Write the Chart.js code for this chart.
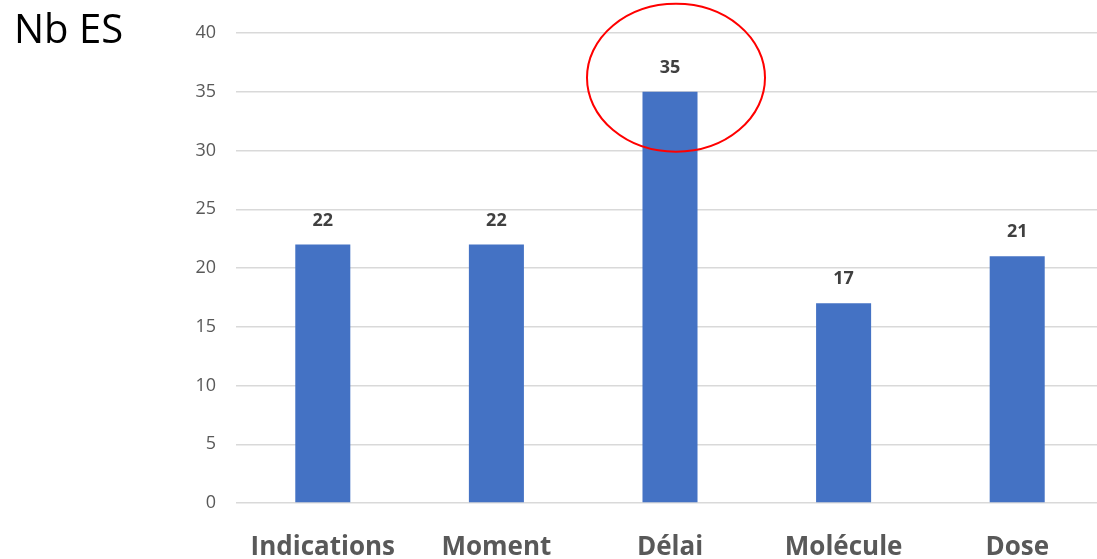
<!DOCTYPE html>
<html>
<head>
<meta charset="utf-8">
<script src="https://cdn.jsdelivr.net/npm/chart.js@4.4.0/dist/chart.umd.min.js"></script>
<style>
  html, body { margin: 0; padding: 0; background: #fff; overflow: hidden; }
  #wrap { position: relative; width: 1104px; height: 559px; }
  #title {
    position: absolute; left: 14px; top: 0px;
    font-family: "Open Sans", sans-serif; font-size: 40px; color: #000;
  }
</style>
</head>
<body>
<div id="wrap">
  <canvas id="chart" width="1104" height="559"></canvas>
  <div id="title">Nb ES</div>
</div>
<script>
const categories = ["Indications", "Moment", "Délai", "Molécule", "Dose"];
const counts = [22, 22, 35, 17, 21];
const highlightIndex = 2;

// labels above bars
const valueLabels = {
  id: "valueLabels",
  afterDatasetsDraw(chart) {
    const c = chart.ctx;
    const meta = chart.getDatasetMeta(0);
    c.save();
    c.font = "bold 18px 'Open Sans', sans-serif";
    c.fillStyle = "#404040";
    c.textAlign = "center";
    c.textBaseline = "middle";
    meta.data.forEach((bar, i) => {
      c.fillText(String(counts[i]), bar.x, bar.y - 24);
    });
    c.restore();
  }
};

// red ellipse around the highlighted bar top
const ellipse = {
  id: "ellipse",
  afterDraw(chart) {
    const c = chart.ctx;
    const bar = chart.getDatasetMeta(0).data[highlightIndex];
    c.save();
    c.strokeStyle = "#ff0000";
    c.lineWidth = 2;
    c.beginPath();
    c.ellipse(bar.x + 6, bar.y - 14, 89, 74, 0, 0, Math.PI * 2);
    c.stroke();
    c.restore();
  }
};

new Chart(document.getElementById("chart").getContext("2d"), {
  type: "bar",
  data: {
    labels: categories,
    datasets: [{
      data: counts,
      backgroundColor: "#4472c4",
      borderWidth: 0,
      barPercentage: 0.317,
      categoryPercentage: 1
    }]
  },
  options: {
    responsive: false,
    animation: false,
    layout: { padding: { top: 33, right: 0, bottom: 0, left: 0 } },
    plugins: { legend: { display: false }, tooltip: { enabled: false } },
    scales: {
      y: {
        min: 0,
        max: 40,
        ticks: {
          stepSize: 5,
          color: "#595959",
          padding: 20,
          font: { family: "'Open Sans', sans-serif", size: 18 }
        },
        grid: { color: "#d9d9d9", lineWidth: 1.5, drawTicks: false },
        border: { display: false },
        afterFit(scale) { scale.width = 236; }
      },
      x: {
        ticks: {
          color: "#595959",
          padding: 29,
          font: { family: "'Open Sans', sans-serif", size: 26, weight: "bold" }
        },
        grid: { display: false, drawTicks: false },
        border: { display: false },
        afterFit(scale) { scale.height = 56; }
      }
    }
  },
  plugins: [valueLabels, ellipse]
});
</script>
</body>
</html>
